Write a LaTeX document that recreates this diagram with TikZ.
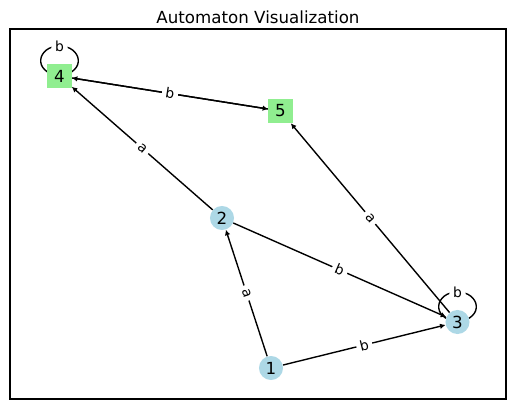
\documentclass[tikz,border=0pt]{standalone}
\usepackage{fontspec}
\setmainfont{DejaVu Sans}
\usetikzlibrary{arrows.meta,backgrounds}
\definecolor{nodeblue}{HTML}{ADD8E6}
\definecolor{nodegreen}{HTML}{90EE90}
\begin{document}
\begin{tikzpicture}[x=0.72pt,y=-0.72pt,
  state/.style={circle,fill=nodeblue,minimum size=17.3pt,inner sep=0pt,font=\fontsize{12}{14}\selectfont},
  final/.style={rectangle,fill=nodegreen,minimum size=17.3pt,inner sep=0pt,font=\fontsize{12}{14}\selectfont},
  trans/.style={-{Latex[length=4pt,width=4pt]},line width=1pt},
  loopline/.style={line width=1pt},
  lblh/.style={fill=white,inner sep=2.6pt,rounded corners=2pt,font=\fontsize{10}{12}\selectfont},
  lbl/.style={lblh,sloped}]
\useasboundingbox (0,0) rectangle (515,409);
\draw[line width=0.8pt] (10,29) rectangle (506,399);
\node[font=\fontsize{12}{14}\selectfont] (title) at (258,17) {Automaton Visualization};
\node[final] (n4) at (59.5,76) {4};
\node[final] (n5) at (280.5,111) {5};
\node[state] (n2) at (222,218) {2};
\node[state] (n3) at (457.5,322) {3};
\node[state] (n1) at (271,368) {1};
\begin{scope}[on background layer]
  \draw[trans] (n1) -- (n2) node[lbl,pos=0.5]{a};
  \draw[trans] (n1) -- (n3) node[lbl,pos=0.5]{b};
  \draw[trans] (n2) -- (n3) node[lbl,pos=0.5]{b};
  \draw[trans] (n2) -- (n4) node[lbl,pos=0.5]{a};
  \draw[trans] (n3) -- (n5) node[lbl,pos=0.5]{a};
  \draw[trans] (n5) -- (n4);
  \draw[trans] (n4) -- (n5) node[lbl,pos=0.5]{b};
  \draw[loopline] (n4.center) .. controls +(-28,-4) and +(-22,0) .. +(0,-30) coordinate (l4)
     .. controls +(22,0) and +(28,-4) .. (n4.center);
  \node[lblh] (l4b) at (l4) {b};
  \draw[loopline] (n3.center) .. controls +(-28,-4) and +(-22,0) .. +(0,-30) coordinate (l3)
     .. controls +(22,0) and +(28,-4) .. (n3.center);
  \node[lblh] (l3b) at (l3) {b};
\end{scope}
\end{tikzpicture}
\end{document}
